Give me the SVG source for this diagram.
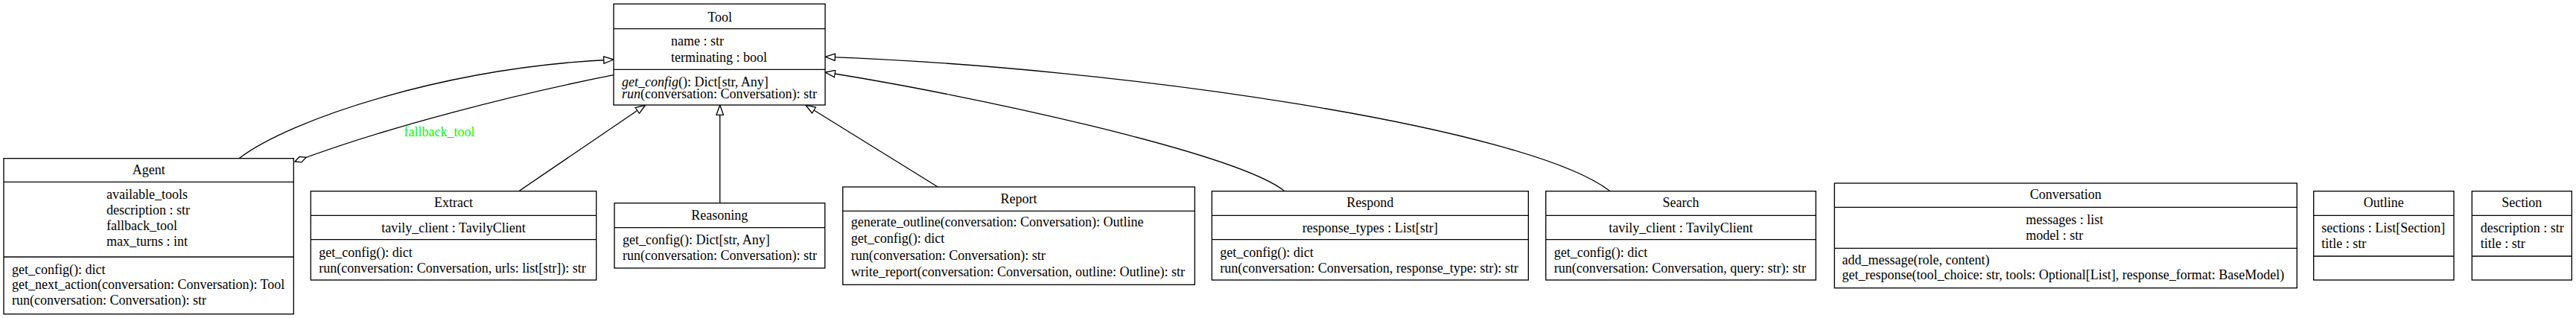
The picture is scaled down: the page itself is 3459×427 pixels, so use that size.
<svg xmlns="http://www.w3.org/2000/svg" width="3459" height="427" viewBox="0 0 3459 427">
<style>
.box{fill:#fff;stroke:#000;stroke-width:1.33}
.sep{stroke:#000;stroke-width:1.33}
.t{font-family:"Liberation Serif","Times New Roman",serif;font-size:18px;fill:#000}
.c{text-anchor:middle}
.e{fill:none;stroke:#000;stroke-width:1.33}
.lbl{font-family:"Liberation Serif","Times New Roman",serif;font-size:18px;fill:#00ff00;text-anchor:middle}
</style>
<defs>
<marker id="tri" viewBox="0 0 15 11" refX="14" refY="5.5" markerWidth="15" markerHeight="11" markerUnits="userSpaceOnUse" orient="auto">
<path d="M0.7,0.8 L14,5.5 L0.7,10.2 Z" fill="#fff" stroke="#000" stroke-width="1.33"/>
</marker>
<marker id="dia" viewBox="0 0 18 10" refX="17" refY="5" markerWidth="18" markerHeight="10" markerUnits="userSpaceOnUse" orient="auto">
<path d="M1,5 L9,1 L17,5 L9,9 Z" fill="#fff" stroke="#000" stroke-width="1.33"/>
</marker>
</defs>
<rect width="3459" height="427" fill="#fff"/>
<g id="connectors">
<path class="e" d="M321,212.7 C390,160 600,90 824,80" marker-end="url(#tri)"/>
<path class="e" d="M824,100.7 C700,125 520,170 396,217" marker-end="url(#dia)"/>
<text class="lbl" x="590" y="182.7">fallback_tool</text>
<path class="e" d="M696.7,256.7 L866.7,141" marker-end="url(#tri)"/>
<path class="e" d="M966.7,272.7 L966.7,141" marker-end="url(#tri)"/>
<path class="e" d="M1259.3,251 L1081.7,141" marker-end="url(#tri)"/>
<path class="e" d="M1725,256.7 C1660,205 1300,127 1108,97" marker-end="url(#tri)"/>
<path class="e" d="M2162,256.7 C2050,170 1500,90 1108,76.3" marker-end="url(#tri)"/>
</g>
<g id="Tool">
<rect class="box" x="824" y="5.3" width="284" height="135.7"/>
<line class="sep" x1="824" y1="38.7" x2="1108" y2="38.7"/>
<line class="sep" x1="824" y1="93.3" x2="1108" y2="93.3"/>
<text class="t c" x="966.7" y="29">Tool</text>
<text class="t" x="901" y="61">name : str</text>
<text class="t" x="901" y="82.5">terminating : bool</text>
<text class="t" x="835" y="115.5"><tspan font-style="italic">get_config</tspan>(): Dict[str, Any]</text>
<text class="t" x="835" y="131.5"><tspan font-style="italic">run</tspan>(conversation: Conversation): str</text>
</g>
<g id="Agent">
<rect class="box" x="5" y="212.7" width="389.3" height="209"/>
<line class="sep" x1="5" y1="244.3" x2="394.3" y2="244.3"/>
<line class="sep" x1="5" y1="345" x2="394.3" y2="345"/>
<text class="t c" x="199.7" y="234.3">Agent</text>
<text class="t" x="143" y="267.3">available_tools</text>
<text class="t" x="143" y="288.3">description : str</text>
<text class="t" x="143" y="309.3">fallback_tool</text>
<text class="t" x="143" y="330.3">max_turns : int</text>
<text class="t" x="16" y="367.7">get_config(): dict</text>
<text class="t" x="16" y="388.3">get_next_action(conversation: Conversation): Tool</text>
<text class="t" x="16" y="409">run(conversation: Conversation): str</text>
</g>
<g id="Extract">
<rect class="box" x="417.3" y="256.7" width="383.4" height="119.3"/>
<line class="sep" x1="417.3" y1="289.3" x2="800.7" y2="289.3"/>
<line class="sep" x1="417.3" y1="321.7" x2="800.7" y2="321.7"/>
<text class="t c" x="609" y="278.3">Extract</text>
<text class="t c" x="609" y="311.7">tavily_client : TavilyClient</text>
<text class="t" x="428.3" y="345">get_config(): dict</text>
<text class="t" x="428.3" y="366">run(conversation: Conversation, urls: list[str]): str</text>
</g>
<g id="Reasoning">
<rect class="box" x="825" y="272.7" width="282.7" height="87.3"/>
<line class="sep" x1="825" y1="305.7" x2="1107.7" y2="305.7"/>
<text class="t c" x="966.3" y="295">Reasoning</text>
<text class="t" x="836" y="328.3">get_config(): Dict[str, Any]</text>
<text class="t" x="836" y="349.3">run(conversation: Conversation): str</text>
</g>
<g id="Report">
<rect class="box" x="1131.7" y="251" width="472.6" height="131.3"/>
<line class="sep" x1="1131.7" y1="283.3" x2="1604.3" y2="283.3"/>
<text class="t c" x="1368" y="273.3">Report</text>
<text class="t" x="1142.7" y="304">generate_outline(conversation: Conversation): Outline</text>
<text class="t" x="1142.7" y="326.3">get_config(): dict</text>
<text class="t" x="1142.7" y="348.7">run(conversation: Conversation): str</text>
<text class="t" x="1142.7" y="371">write_report(conversation: Conversation, outline: Outline): str</text>
</g>
<g id="Respond">
<rect class="box" x="1627.3" y="256.7" width="425" height="119.3"/>
<line class="sep" x1="1627.3" y1="289.3" x2="2052.3" y2="289.3"/>
<line class="sep" x1="1627.3" y1="321.7" x2="2052.3" y2="321.7"/>
<text class="t c" x="1839.8" y="278.3">Respond</text>
<text class="t c" x="1839.8" y="311.7">response_types : List[str]</text>
<text class="t" x="1638.3" y="345">get_config(): dict</text>
<text class="t" x="1638.3" y="366">run(conversation: Conversation, response_type: str): str</text>
</g>
<g id="Search">
<rect class="box" x="2075.7" y="256.7" width="362.6" height="119.3"/>
<line class="sep" x1="2075.7" y1="289.3" x2="2438.3" y2="289.3"/>
<line class="sep" x1="2075.7" y1="321.7" x2="2438.3" y2="321.7"/>
<text class="t c" x="2257" y="278.3">Search</text>
<text class="t c" x="2257" y="311.7">tavily_client : TavilyClient</text>
<text class="t" x="2086.7" y="345">get_config(): dict</text>
<text class="t" x="2086.7" y="366">run(conversation: Conversation, query: str): str</text>
</g>
<g id="Conversation">
<rect class="box" x="2463.3" y="246" width="621" height="140.7"/>
<line class="sep" x1="2463.3" y1="278.3" x2="3084.3" y2="278.3"/>
<line class="sep" x1="2463.3" y1="333.3" x2="3084.3" y2="333.3"/>
<text class="t c" x="2773.8" y="267.3">Conversation</text>
<text class="t" x="2720.3" y="300.7">messages : list</text>
<text class="t" x="2720.3" y="321.7">model : str</text>
<text class="t" x="2473.6" y="355">add_message(role, content)</text>
<text class="t" x="2473.6" y="375">get_response(tool_choice: str, tools: Optional[List], response_format: BaseModel)</text>
</g>
<g id="Outline">
<rect class="box" x="3106.7" y="256.7" width="188.3" height="119.3"/>
<line class="sep" x1="3106.7" y1="289.3" x2="3295" y2="289.3"/>
<line class="sep" x1="3106.7" y1="344" x2="3295" y2="344"/>
<text class="t c" x="3200.8" y="278.3">Outline</text>
<text class="t" x="3117.3" y="311.7">sections : List[Section]</text>
<text class="t" x="3117.3" y="332.7">title : str</text>
</g>
<g id="Section">
<rect class="box" x="3319.3" y="256.7" width="134" height="119.3"/>
<line class="sep" x1="3319.3" y1="289.3" x2="3453.3" y2="289.3"/>
<line class="sep" x1="3319.3" y1="344" x2="3453.3" y2="344"/>
<text class="t c" x="3386.3" y="278.3">Section</text>
<text class="t" x="3330.7" y="311.7">description : str</text>
<text class="t" x="3330.7" y="332.7">title : str</text>
</g>
</svg>
